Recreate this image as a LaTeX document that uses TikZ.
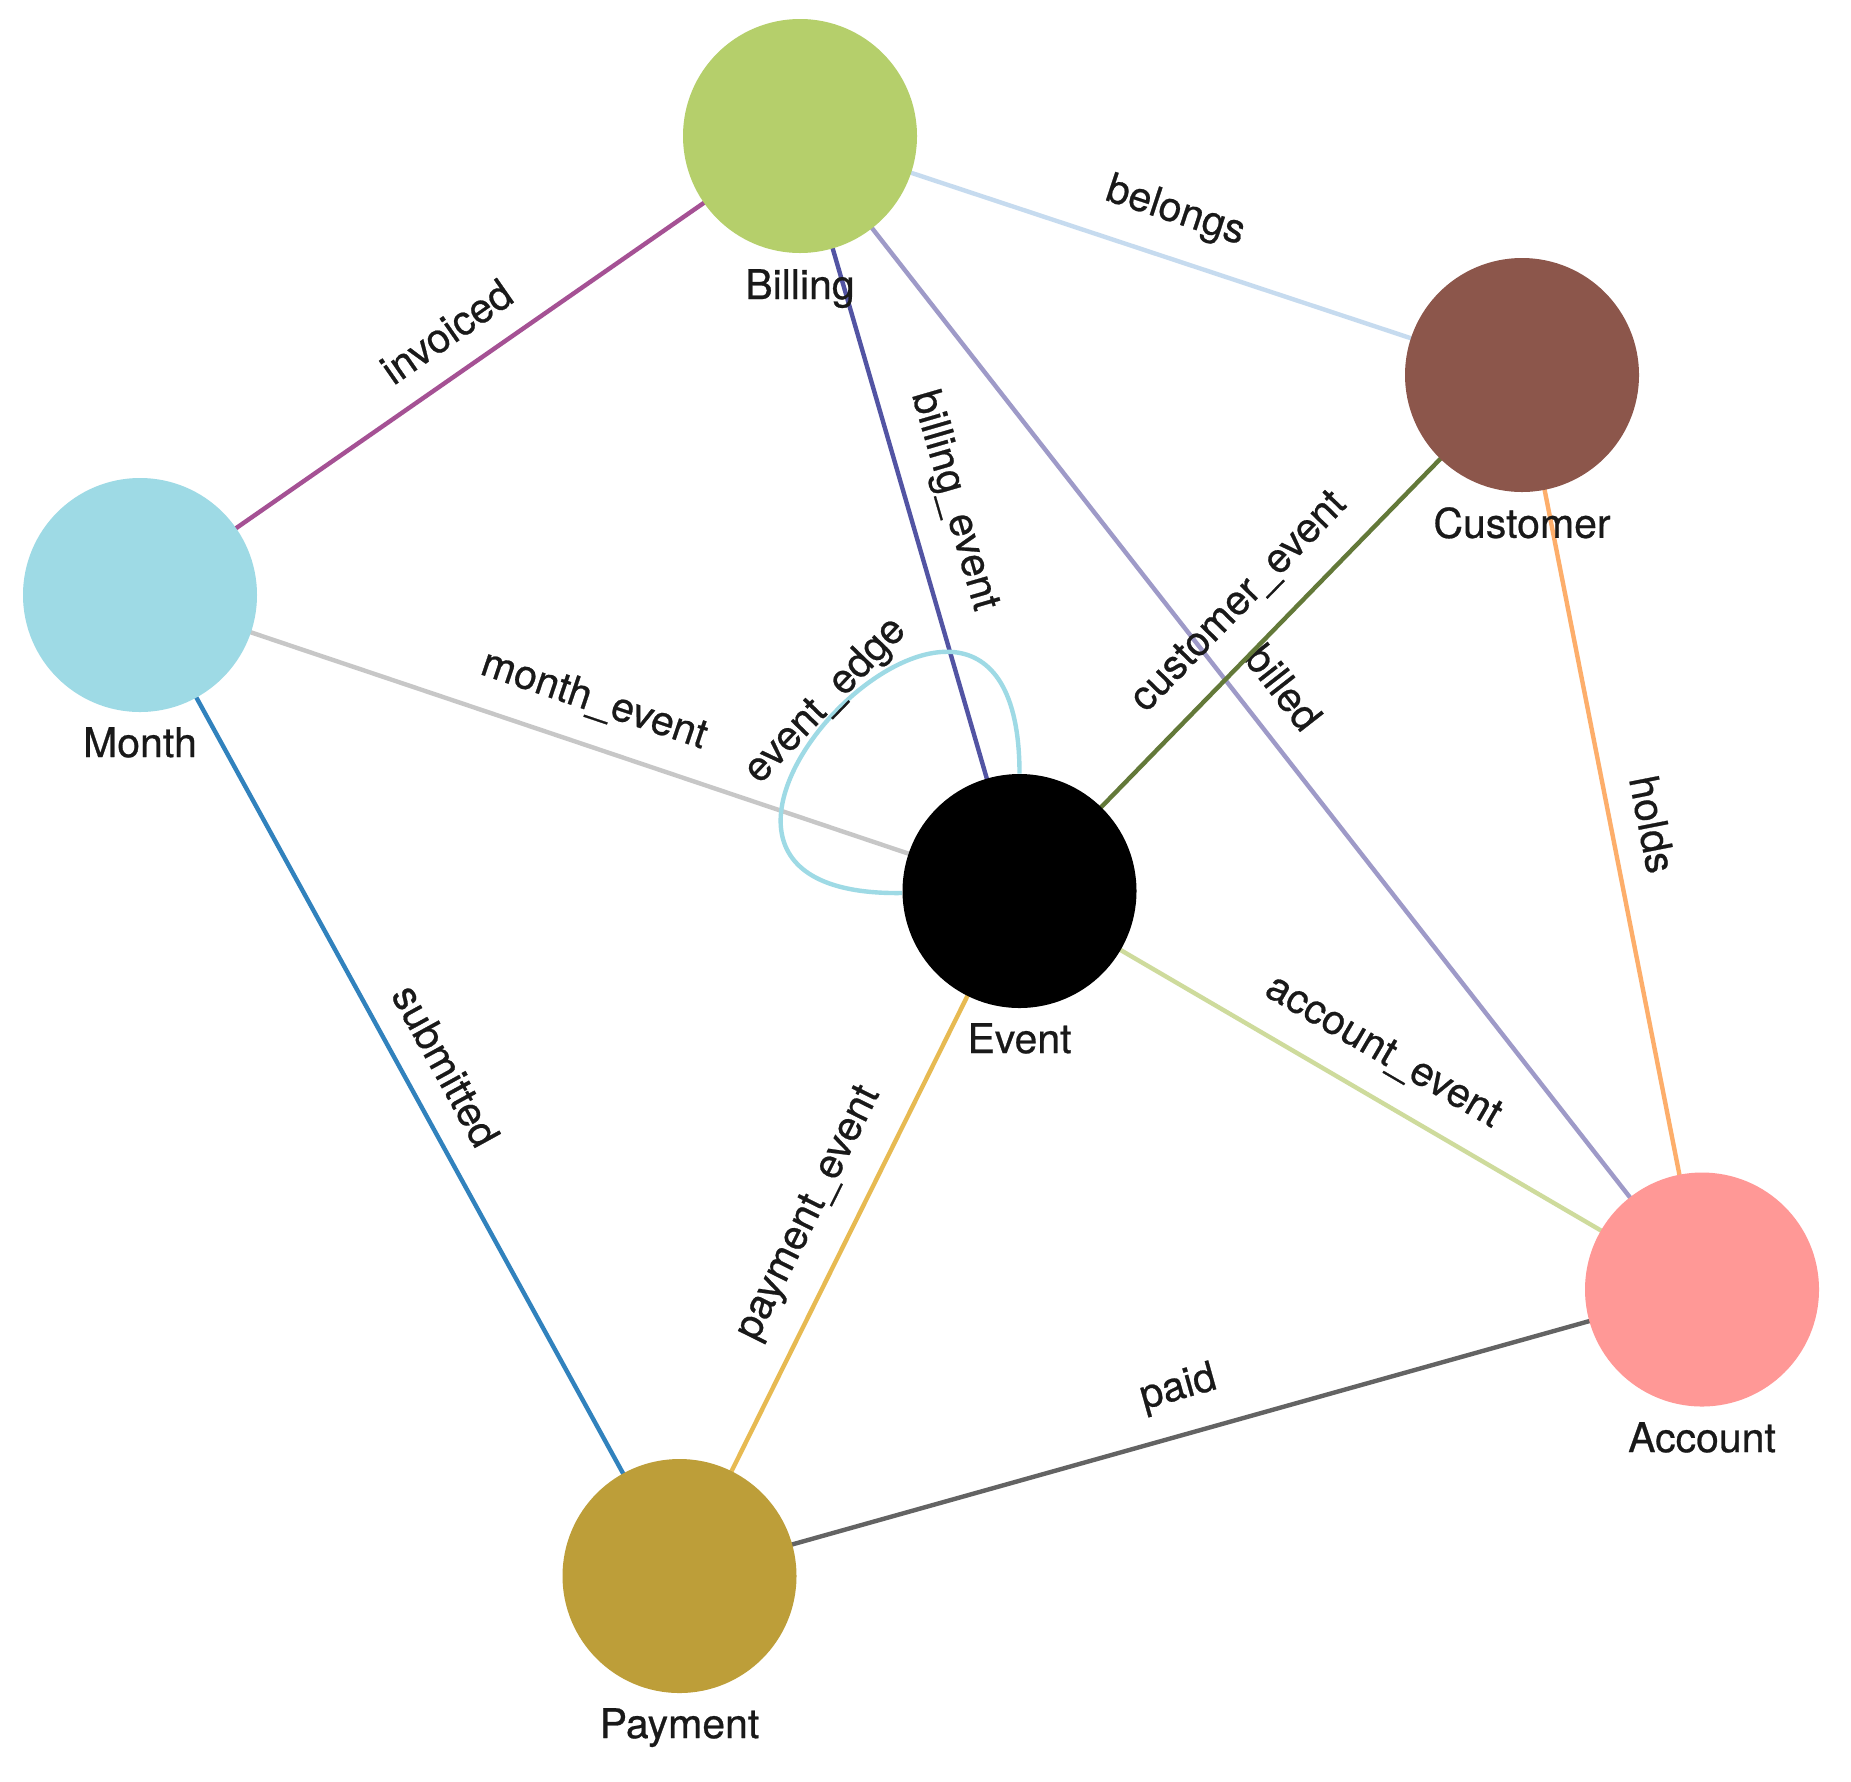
\documentclass[tikz,border=0pt]{standalone}
\usepackage{fontspec}
\setmainfont{TeX Gyre Heros}
\newfontfamily\lblfont[FakeBold=0.6]{TeX Gyre Heros}
\begin{document}
\begin{tikzpicture}[x=1pt,y=-1pt,
  vert/.style={circle,draw=none,inner sep=0pt,minimum size=234pt},
  vlabel/.style={anchor=north,inner sep=0pt,text=black!90,font=\lblfont\fontsize{41}{48}\selectfont},
  link/.style={line width=4.4pt},
  elabel/.style={midway,sloped,above=24pt,inner sep=0pt,text=black!90,font=\lblfont\fontsize{41}{48}\selectfont}]
\definecolor{cBil}{HTML}{B5CF6B}
\definecolor{cCus}{HTML}{8C564B}
\definecolor{cMon}{HTML}{9EDAE5}
\definecolor{cAcc}{HTML}{FF9896}
\definecolor{cPay}{HTML}{BD9E39}
\definecolor{eInv}{HTML}{A55194}
\definecolor{eBel}{HTML}{C6DBEF}
\definecolor{eBev}{HTML}{5254A3}
\definecolor{eBld}{HTML}{9E9AC8}
\definecolor{eCev}{HTML}{637939}
\definecolor{eHld}{HTML}{FDAE6B}
\definecolor{eMev}{HTML}{C7C7C7}
\definecolor{eEed}{HTML}{9EDAE5}
\definecolor{eSub}{HTML}{3182BD}
\definecolor{ePev}{HTML}{E7BA52}
\definecolor{eAev}{HTML}{CEDB9C}
\definecolor{ePad}{HTML}{636363}
\fill[white] (0,0) rectangle (1851,1781);
\useasboundingbox (0,0) rectangle (1851,1781);
% vertex centres
\coordinate (Bc) at (800,136);
\coordinate (Cc) at (1522,375);
\coordinate (Mc) at (140,595);
\coordinate (Ec) at (1019.5,891);
\coordinate (Ac) at (1702,1289.5);
\coordinate (Pc) at (679.5,1576);
% edges
\draw[link,eInv] (Mc) -- node[elabel] (linv) {invoiced} (Bc);
\draw[link,eBel] (Bc) -- node[elabel] (lbel) {belongs} (Cc);
\draw[link,eBev] (Bc) -- node[elabel] (lbev) {billing\_event} (Ec);
\draw[link,eBld] (Bc) -- node[elabel] (lbld) {billed} (Ac);
\draw[link,eCev] (Ec) -- node[elabel] (lcev) {customer\_event} (Cc);
\draw[link,eHld] (Cc) -- node[elabel] (lhld) {holds} (Ac);
\draw[link,eMev] (Mc) -- node[elabel] (lmev) {month\_event} (Ec);
\draw[link,eSub] (Mc) -- node[elabel] (lsub) {submitted} (Pc);
\draw[link,ePev] (Pc) -- node[elabel] (lpev) {payment\_event} (Ec);
\draw[link,eAev] (Ec) -- node[elabel] (laev) {account\_event} (Ac);
\draw[link,ePad] (Pc) -- node[elabel] (lpad) {paid} (Ac);
% self loop
\coordinate (Ew) at (902,893);
\coordinate (En) at (1019.5,773.5);
\draw[link,eEed] (Ew) .. controls (572,898) and (1019.5,440) .. (En);
\node[inner sep=0pt,rotate=46,text=black!90,font=\lblfont\fontsize{41}{48}\selectfont] (eel) at (826,701) {event\_edge};
% nodes
\node[vert,fill=cBil] (bil) at (Bc) {};
\node[vert,fill=cCus] (cus) at (Cc) {};
\node[vert,fill=cMon] (mon) at (Mc) {};
\node[vert,fill=black] (evt) at (Ec) {};
\node[vert,fill=cAcc] (acc) at (Ac) {};
\node[vert,fill=cPay] (pay) at (Pc) {};
% vertex labels
\node[vlabel] (lbil) at (800,269) {Billing};
\node[vlabel] (lcus) at (1522,507) {Customer};
\node[vlabel] (lmon) at (140,727) {Month};
\node[vlabel] (levt) at (1019.5,1023) {Event};
\node[vlabel] (lacc) at (1702,1422) {Account};
\node[vlabel] (lpay) at (679.5,1708) {Payment};
\end{tikzpicture}
\end{document}
